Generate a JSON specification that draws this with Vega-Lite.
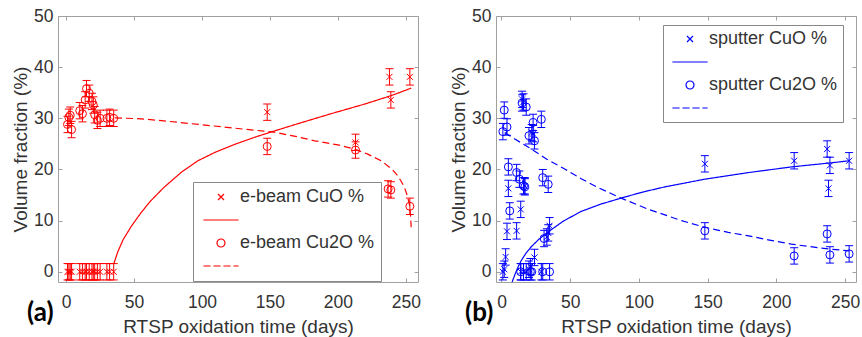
{
  "$schema": "https://vega.github.io/schema/vega-lite/v6.json",
  "background": "white",
  "padding": {"left": 11, "top": 6, "right": 4, "bottom": 2},
  "autosize": {"type": "pad"},
  "spacing": 28,
  "config": {
    "font": "Liberation Sans",
    "view": {"stroke": "#a0a0a0", "strokeWidth": 1},
    "axis": {"domain": false, "grid": false, "tickColor": "#a0a0a0", "tickSize": -4, "labelFontSize": 17.5, "labelColor": "#333333", "titleFontSize": 19, "titleColor": "#333333", "titleFontWeight": "normal"},
    "axisX": {"labelPadding": 15, "titlePadding": 7},
    "axisY": {"labelPadding": 9, "titlePadding": 3}
  },
  "datasets": {
    "a": [
      {"t": 1, "v": 28.8, "s": "e-beam Cu2O %", "e": 1.6},
      {"t": 2, "v": 30.2, "s": "e-beam Cu2O %", "e": 1.6},
      {"t": 3, "v": 30.6, "s": "e-beam Cu2O %", "e": 1.6},
      {"t": 4, "v": 27.8, "s": "e-beam Cu2O %", "e": 1.6},
      {"t": 10, "v": 31.5, "s": "e-beam Cu2O %", "e": 1.6},
      {"t": 12, "v": 30.9, "s": "e-beam Cu2O %", "e": 1.6},
      {"t": 14, "v": 33.6, "s": "e-beam Cu2O %", "e": 1.6},
      {"t": 15, "v": 35.8, "s": "e-beam Cu2O %", "e": 1.6},
      {"t": 17, "v": 34.9, "s": "e-beam Cu2O %", "e": 1.6},
      {"t": 19, "v": 33.3, "s": "e-beam Cu2O %", "e": 1.6},
      {"t": 20, "v": 32.6, "s": "e-beam Cu2O %", "e": 1.6},
      {"t": 21, "v": 30.7, "s": "e-beam Cu2O %", "e": 1.6},
      {"t": 23, "v": 29.6, "s": "e-beam Cu2O %", "e": 1.6},
      {"t": 25, "v": 30.0, "s": "e-beam Cu2O %", "e": 1.6},
      {"t": 30, "v": 30.0, "s": "e-beam Cu2O %", "e": 1.6},
      {"t": 32, "v": 30.2, "s": "e-beam Cu2O %", "e": 1.6},
      {"t": 35, "v": 30.0, "s": "e-beam Cu2O %", "e": 1.6},
      {"t": 148, "v": 24.5, "s": "e-beam Cu2O %", "e": 1.6},
      {"t": 213, "v": 23.8, "s": "e-beam Cu2O %", "e": 1.6},
      {"t": 237, "v": 16.2, "s": "e-beam Cu2O %", "e": 1.6},
      {"t": 239, "v": 16.0, "s": "e-beam Cu2O %", "e": 1.6},
      {"t": 253, "v": 12.8, "s": "e-beam Cu2O %", "e": 1.6},
      {"t": 1, "v": 0, "s": "e-beam CuO %", "e": 1.6},
      {"t": 2, "v": 0, "s": "e-beam CuO %", "e": 1.6},
      {"t": 3, "v": 0, "s": "e-beam CuO %", "e": 1.6},
      {"t": 4, "v": 0, "s": "e-beam CuO %", "e": 1.6},
      {"t": 10, "v": 0, "s": "e-beam CuO %", "e": 1.6},
      {"t": 12, "v": 0, "s": "e-beam CuO %", "e": 1.6},
      {"t": 14, "v": 0, "s": "e-beam CuO %", "e": 1.6},
      {"t": 15, "v": 0, "s": "e-beam CuO %", "e": 1.6},
      {"t": 17, "v": 0, "s": "e-beam CuO %", "e": 1.6},
      {"t": 19, "v": 0, "s": "e-beam CuO %", "e": 1.6},
      {"t": 20, "v": 0, "s": "e-beam CuO %", "e": 1.6},
      {"t": 21, "v": 0, "s": "e-beam CuO %", "e": 1.6},
      {"t": 23, "v": 0, "s": "e-beam CuO %", "e": 1.6},
      {"t": 25, "v": 0, "s": "e-beam CuO %", "e": 1.6},
      {"t": 30, "v": 0, "s": "e-beam CuO %", "e": 1.6},
      {"t": 32, "v": 0, "s": "e-beam CuO %", "e": 1.6},
      {"t": 35, "v": 0, "s": "e-beam CuO %", "e": 1.6},
      {"t": 148, "v": 31.2, "s": "e-beam CuO %", "e": 1.6},
      {"t": 213, "v": 25.3, "s": "e-beam CuO %", "e": 1.6},
      {"t": 238, "v": 38.1, "s": "e-beam CuO %", "e": 1.6},
      {"t": 239, "v": 33.6, "s": "e-beam CuO %", "e": 1.6},
      {"t": 253, "v": 38.1, "s": "e-beam CuO %", "e": 1.6}
    ],
    "fa": [
      {"t": 35, "v": 1.5, "f": "CuO"},
      {"t": 38, "v": 3.9, "f": "CuO"},
      {"t": 42, "v": 6.3, "f": "CuO"},
      {"t": 48, "v": 8.9, "f": "CuO"},
      {"t": 55, "v": 11.5, "f": "CuO"},
      {"t": 62, "v": 13.8, "f": "CuO"},
      {"t": 72, "v": 16.5, "f": "CuO"},
      {"t": 85, "v": 19.5, "f": "CuO"},
      {"t": 97, "v": 21.7, "f": "CuO"},
      {"t": 110, "v": 23.4, "f": "CuO"},
      {"t": 125, "v": 25.0, "f": "CuO"},
      {"t": 140, "v": 26.4, "f": "CuO"},
      {"t": 153, "v": 27.5, "f": "CuO"},
      {"t": 170, "v": 28.9, "f": "CuO"},
      {"t": 195, "v": 30.9, "f": "CuO"},
      {"t": 220, "v": 32.8, "f": "CuO"},
      {"t": 240, "v": 34.5, "f": "CuO"},
      {"t": 254, "v": 35.9, "f": "CuO"},
      {"t": 36, "v": 30.1, "f": "Cu2O"},
      {"t": 55, "v": 29.9, "f": "Cu2O"},
      {"t": 72, "v": 29.5, "f": "Cu2O"},
      {"t": 90, "v": 29.0, "f": "Cu2O"},
      {"t": 109, "v": 28.5, "f": "Cu2O"},
      {"t": 130, "v": 27.9, "f": "Cu2O"},
      {"t": 153, "v": 27.3, "f": "Cu2O"},
      {"t": 170, "v": 26.4, "f": "Cu2O"},
      {"t": 183, "v": 25.6, "f": "Cu2O"},
      {"t": 200, "v": 24.8, "f": "Cu2O"},
      {"t": 212, "v": 24.0, "f": "Cu2O"},
      {"t": 222, "v": 23.0, "f": "Cu2O"},
      {"t": 232, "v": 21.7, "f": "Cu2O"},
      {"t": 240, "v": 20.0, "f": "Cu2O"},
      {"t": 244, "v": 18.8, "f": "Cu2O"},
      {"t": 247, "v": 17.5, "f": "Cu2O"},
      {"t": 249, "v": 16.5, "f": "Cu2O"},
      {"t": 251, "v": 15.0, "f": "Cu2O"},
      {"t": 252.7, "v": 13.2, "f": "Cu2O"},
      {"t": 253.5, "v": 11.0, "f": "Cu2O"},
      {"t": 254, "v": 8.7, "f": "Cu2O"}
    ],
    "b": [
      {"t": 1, "v": 27.4, "s": "sputter Cu2O %", "e": 1.6},
      {"t": 2, "v": 31.6, "s": "sputter Cu2O %", "e": 1.6},
      {"t": 4, "v": 28.3, "s": "sputter Cu2O %", "e": 1.6},
      {"t": 5, "v": 20.5, "s": "sputter Cu2O %", "e": 1.6},
      {"t": 6, "v": 11.9, "s": "sputter Cu2O %", "e": 1.6},
      {"t": 11, "v": 19.4, "s": "sputter Cu2O %", "e": 1.6},
      {"t": 13, "v": 18.1, "s": "sputter Cu2O %", "e": 1.6},
      {"t": 15, "v": 33.0, "s": "sputter Cu2O %", "e": 1.6},
      {"t": 16, "v": 16.8, "s": "sputter Cu2O %", "e": 1.6},
      {"t": 17, "v": 16.6, "s": "sputter Cu2O %", "e": 1.6},
      {"t": 18, "v": 32.2, "s": "sputter Cu2O %", "e": 1.6},
      {"t": 20, "v": 26.6, "s": "sputter Cu2O %", "e": 1.6},
      {"t": 23, "v": 29.2, "s": "sputter Cu2O %", "e": 1.6},
      {"t": 24, "v": 25.6, "s": "sputter Cu2O %", "e": 1.6},
      {"t": 29, "v": 29.8, "s": "sputter Cu2O %", "e": 1.6},
      {"t": 30, "v": 18.4, "s": "sputter Cu2O %", "e": 1.6},
      {"t": 31, "v": 6.5, "s": "sputter Cu2O %", "e": 1.6},
      {"t": 34, "v": 17.1, "s": "sputter Cu2O %", "e": 1.6},
      {"t": 14, "v": 0, "s": "sputter Cu2O %", "e": 1.6},
      {"t": 21, "v": 0, "s": "sputter Cu2O %", "e": 1.6},
      {"t": 22, "v": 0, "s": "sputter Cu2O %", "e": 1.6},
      {"t": 30, "v": 0, "s": "sputter Cu2O %", "e": 1.6},
      {"t": 35, "v": 0, "s": "sputter Cu2O %", "e": 1.6},
      {"t": 148, "v": 8.0, "s": "sputter Cu2O %", "e": 1.6},
      {"t": 213, "v": 3.1, "s": "sputter Cu2O %", "e": 1.6},
      {"t": 237, "v": 7.4, "s": "sputter Cu2O %", "e": 1.6},
      {"t": 239, "v": 3.3, "s": "sputter Cu2O %", "e": 1.6},
      {"t": 253, "v": 3.5, "s": "sputter Cu2O %", "e": 1.6},
      {"t": 1, "v": 0, "s": "sputter CuO %", "e": 1.6},
      {"t": 2, "v": 0.5, "s": "sputter CuO %", "e": 1.6},
      {"t": 3, "v": 2.9, "s": "sputter CuO %", "e": 1.6},
      {"t": 4, "v": 7.9, "s": "sputter CuO %", "e": 1.6},
      {"t": 5, "v": 16.3, "s": "sputter CuO %", "e": 1.6},
      {"t": 11, "v": 8.0, "s": "sputter CuO %", "e": 1.6},
      {"t": 14, "v": 12.2, "s": "sputter CuO %", "e": 1.6},
      {"t": 15, "v": 33.7, "s": "sputter CuO %", "e": 1.6},
      {"t": 16, "v": 33.2, "s": "sputter CuO %", "e": 1.6},
      {"t": 17, "v": 16.8, "s": "sputter CuO %", "e": 1.6},
      {"t": 14, "v": 0, "s": "sputter CuO %", "e": 1.6},
      {"t": 16, "v": 0, "s": "sputter CuO %", "e": 1.6},
      {"t": 18, "v": 0, "s": "sputter CuO %", "e": 1.6},
      {"t": 20, "v": 0.5, "s": "sputter CuO %", "e": 1.6},
      {"t": 21, "v": 1.0, "s": "sputter CuO %", "e": 1.6},
      {"t": 22, "v": 27.2, "s": "sputter CuO %", "e": 1.6},
      {"t": 23, "v": 27.0, "s": "sputter CuO %", "e": 1.6},
      {"t": 24, "v": 2.8, "s": "sputter CuO %", "e": 1.6},
      {"t": 29, "v": 0, "s": "sputter CuO %", "e": 1.6},
      {"t": 33, "v": 6.8, "s": "sputter CuO %", "e": 1.6},
      {"t": 34, "v": 7.6, "s": "sputter CuO %", "e": 1.6},
      {"t": 35, "v": 9.0, "s": "sputter CuO %", "e": 1.6},
      {"t": 148, "v": 21.1, "s": "sputter CuO %", "e": 1.6},
      {"t": 213, "v": 21.7, "s": "sputter CuO %", "e": 1.6},
      {"t": 237, "v": 24.0, "s": "sputter CuO %", "e": 1.6},
      {"t": 238, "v": 16.3, "s": "sputter CuO %", "e": 1.6},
      {"t": 239, "v": 20.8, "s": "sputter CuO %", "e": 1.6},
      {"t": 253, "v": 21.7, "s": "sputter CuO %", "e": 1.6}
    ],
    "fb": [
      {"t": 7.5, "v": -2.3, "f": "CuO"},
      {"t": 8, "v": -1.8, "f": "CuO"},
      {"t": 10, "v": -0.4, "f": "CuO"},
      {"t": 12, "v": 0.9, "f": "CuO"},
      {"t": 14.4, "v": 2.2, "f": "CuO"},
      {"t": 18, "v": 3.7, "f": "CuO"},
      {"t": 21.7, "v": 4.9, "f": "CuO"},
      {"t": 27, "v": 6.3, "f": "CuO"},
      {"t": 34, "v": 7.8, "f": "CuO"},
      {"t": 45, "v": 9.9, "f": "CuO"},
      {"t": 58, "v": 11.8, "f": "CuO"},
      {"t": 72, "v": 13.2, "f": "CuO"},
      {"t": 87, "v": 14.4, "f": "CuO"},
      {"t": 103, "v": 15.6, "f": "CuO"},
      {"t": 119, "v": 16.6, "f": "CuO"},
      {"t": 148, "v": 18.1, "f": "CuO"},
      {"t": 180, "v": 19.4, "f": "CuO"},
      {"t": 211, "v": 20.5, "f": "CuO"},
      {"t": 240, "v": 21.3, "f": "CuO"},
      {"t": 253, "v": 21.7, "f": "CuO"},
      {"t": 2.3, "v": 27.2, "f": "Cu2O"},
      {"t": 10, "v": 25.9, "f": "Cu2O"},
      {"t": 21.7, "v": 24.0, "f": "Cu2O"},
      {"t": 33, "v": 22.0, "f": "Cu2O"},
      {"t": 46, "v": 20.1, "f": "Cu2O"},
      {"t": 58, "v": 18.2, "f": "Cu2O"},
      {"t": 70, "v": 16.5, "f": "Cu2O"},
      {"t": 87, "v": 14.4, "f": "Cu2O"},
      {"t": 107, "v": 12.2, "f": "Cu2O"},
      {"t": 131, "v": 10.0, "f": "Cu2O"},
      {"t": 148, "v": 8.7, "f": "Cu2O"},
      {"t": 165, "v": 7.7, "f": "Cu2O"},
      {"t": 180, "v": 7.0, "f": "Cu2O"},
      {"t": 195, "v": 6.2, "f": "Cu2O"},
      {"t": 211, "v": 5.4, "f": "Cu2O"},
      {"t": 225, "v": 4.9, "f": "Cu2O"},
      {"t": 240, "v": 4.4, "f": "Cu2O"},
      {"t": 253, "v": 4.1, "f": "Cu2O"}
    ]
  },
  "hconcat": [
    {
      "width": 360,
      "height": 266,
      "title": {"text": "(a)", "orient": "bottom", "anchor": "start", "frame": "group", "font": "Lato", "fontWeight": "bold", "fontSize": 26, "color": "#000000", "dx": -31, "dy": -41},
      "data": {"name": "a"},
      "layer": [
        {
          "mark": {"type": "errorbar", "ticks": {"size": 8, "opacity": 1}, "thickness": 1, "color": "#ff0000", "opacity": 1},
          "encoding": {
            "x": {"field": "t", "type": "quantitative", "scale": {"domain": [-6, 259], "nice": false, "zero": false}, "axis": null},
            "y": {"field": "v", "type": "quantitative", "scale": {"domain": [-2, 50], "nice": false}, "axis": null},
            "yError": {"field": "e"}
          }
        },
        {
          "mark": {"type": "point", "filled": false, "color": "#ff0000", "size": 64, "strokeWidth": 1, "opacity": 1},
          "encoding": {
            "x": {"field": "t", "type": "quantitative", "scale": {"domain": [-6, 259], "nice": false, "zero": false}, "axis": {"values": [0, 50, 100, 150, 200, 250], "title": "RTSP oxidation time (days)"}},
            "y": {"field": "v", "type": "quantitative", "scale": {"domain": [-2, 50], "nice": false}, "axis": {"values": [0, 10, 20, 30, 40, 50], "title": "Volume fraction (%)"}},
            "shape": {
              "field": "s", "type": "nominal",
              "scale": {"domain": ["e-beam CuO %", "e-beam CuO % fit", "e-beam Cu2O %", "e-beam Cu2O % fit"], "range": ["M-0.75,-0.75L0.75,0.75M-0.75,0.75L0.75,-0.75", "M-4.4,0L4.4,0", "circle", "M-4.4,0L-2.6,0M-1.9,0L-0.1,0M0.6,0L2.4,0M3.1,0L4.4,0"]},
              "legend": {"title": null, "orient": "none", "legendX": 135, "legendY": 166, "strokeColor": "#888888", "fillColor": "white", "padding": 6, "rowPadding": 5, "labelFontSize": 18, "labelColor": "#333333", "symbolOffset": 13, "labelOffset": 10, "symbolSize": 64, "symbolStrokeColor": "#ff0000", "symbolFillColor": "transparent", "symbolStrokeWidth": 1.2, "labelExpr": "substring(datum.label, length(datum.label) - 3) == 'fit' ? ' ' : datum.label"}
            }
          }
        },
        {
          "data": {"name": "fa"},
          "mark": {"type": "line", "color": "#ff0000", "strokeWidth": 1.2, "clip": true},
          "encoding": {
            "x": {"field": "t", "type": "quantitative", "scale": {"domain": [-6, 259], "nice": false, "zero": false}, "axis": {"orient": "top", "labels": false, "title": null, "values": [0, 50, 100, 150, 200, 250]}},
            "y": {"field": "v", "type": "quantitative", "scale": {"domain": [-2, 50], "nice": false}, "axis": {"orient": "right", "labels": false, "title": null, "values": [0, 10, 20, 30, 40, 50]}},
            "strokeDash": {"field": "f", "type": "nominal", "scale": {"domain": ["CuO", "Cu2O"], "range": [[1, 0], [7, 4]]}, "legend": null}
          }
        }
      ],
      "resolve": {"axis": {"x": "independent", "y": "independent"}}
    },
    {
      "width": 360,
      "height": 266,
      "title": {"text": "(b)", "orient": "bottom", "anchor": "start", "frame": "group", "font": "Lato", "fontWeight": "bold", "fontSize": 26, "color": "#000000", "dx": -31, "dy": -41},
      "data": {"name": "b"},
      "layer": [
        {
          "mark": {"type": "errorbar", "ticks": {"size": 8, "opacity": 1}, "thickness": 1, "color": "#0000ff", "opacity": 1},
          "encoding": {
            "x": {"field": "t", "type": "quantitative", "scale": {"domain": [-4, 258], "nice": false, "zero": false}, "axis": null},
            "y": {"field": "v", "type": "quantitative", "scale": {"domain": [-2, 50], "nice": false}, "axis": null},
            "yError": {"field": "e"}
          }
        },
        {
          "mark": {"type": "point", "filled": false, "color": "#0000ff", "size": 64, "strokeWidth": 1, "opacity": 1},
          "encoding": {
            "x": {"field": "t", "type": "quantitative", "scale": {"domain": [-4, 258], "nice": false, "zero": false}, "axis": {"values": [0, 50, 100, 150, 200, 250], "title": "RTSP oxidation time (days)"}},
            "y": {"field": "v", "type": "quantitative", "scale": {"domain": [-2, 50], "nice": false}, "axis": {"values": [0, 10, 20, 30, 40, 50], "title": "Volume fraction (%)"}},
            "shape": {
              "field": "s", "type": "nominal",
              "scale": {"domain": ["sputter CuO %", "sputter CuO % fit", "sputter Cu2O %", "sputter Cu2O % fit"], "range": ["M-0.75,-0.75L0.75,0.75M-0.75,0.75L0.75,-0.75", "M-4.4,0L4.4,0", "circle", "M-4.4,0L-2.6,0M-1.9,0L-0.1,0M0.6,0L2.4,0M3.1,0L4.4,0"]},
              "legend": {"title": null, "orient": "none", "legendX": 167, "legendY": 9, "strokeColor": "#888888", "fillColor": "white", "padding": 5, "rowPadding": 5, "labelFontSize": 18, "labelColor": "#333333", "symbolOffset": 13, "labelOffset": 10, "symbolSize": 64, "symbolStrokeColor": "#0000ff", "symbolFillColor": "transparent", "symbolStrokeWidth": 1.2, "labelExpr": "substring(datum.label, length(datum.label) - 3) == 'fit' ? ' ' : datum.label"}
            }
          }
        },
        {
          "data": {"name": "fb"},
          "mark": {"type": "line", "color": "#0000ff", "strokeWidth": 1.2, "clip": true},
          "encoding": {
            "x": {"field": "t", "type": "quantitative", "scale": {"domain": [-4, 258], "nice": false, "zero": false}, "axis": {"orient": "top", "labels": false, "title": null, "values": [0, 50, 100, 150, 200, 250]}},
            "y": {"field": "v", "type": "quantitative", "scale": {"domain": [-2, 50], "nice": false}, "axis": {"orient": "right", "labels": false, "title": null, "values": [0, 10, 20, 30, 40, 50]}},
            "strokeDash": {"field": "f", "type": "nominal", "scale": {"domain": ["CuO", "Cu2O"], "range": [[1, 0], [7, 4]]}, "legend": null}
          }
        }
      ],
      "resolve": {"axis": {"x": "independent", "y": "independent"}}
    }
  ],
  "resolve": {"scale": {"shape": "independent", "strokeDash": "independent"}, "legend": {"shape": "independent"}}
}
